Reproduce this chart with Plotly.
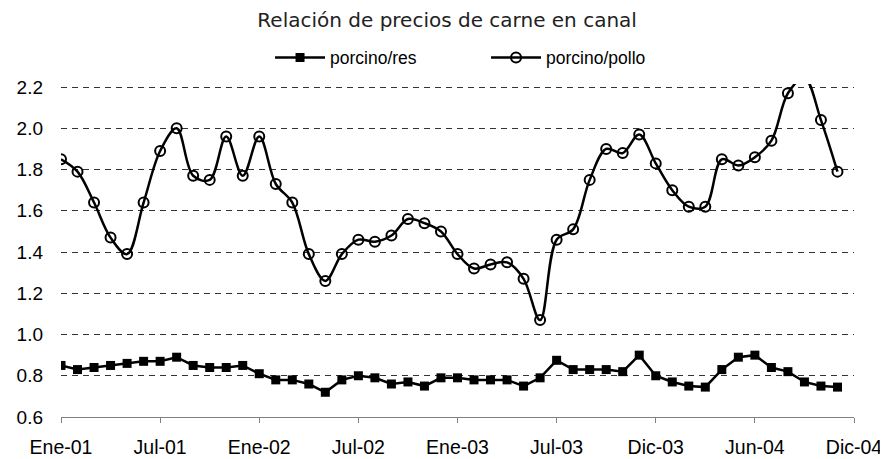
import plotly.graph_objects as go

# Monthly series, Ene-01 .. Nov-04 (48 months)
month_index = list(range(48))

porcino_res = [
    0.85, 0.83, 0.84, 0.85, 0.86, 0.87, 0.87, 0.89, 0.85, 0.84, 0.84, 0.85,
    0.81, 0.78, 0.78, 0.76, 0.72, 0.78, 0.80, 0.79, 0.76, 0.77, 0.75, 0.79,
    0.79, 0.78, 0.78, 0.78, 0.75, 0.79, 0.875, 0.83, 0.83, 0.83, 0.82, 0.90,
    0.80, 0.77, 0.75, 0.745, 0.83, 0.89, 0.90, 0.84, 0.82, 0.77, 0.75, 0.745,
]

porcino_pollo = [
    1.85, 1.79, 1.64, 1.47, 1.39, 1.64, 1.89, 2.00, 1.77, 1.75, 1.96, 1.77,
    1.96, 1.73, 1.64, 1.39, 1.26, 1.39, 1.46, 1.45, 1.48, 1.56, 1.54, 1.50,
    1.39, 1.32, 1.34, 1.35, 1.27, 1.07, 1.46, 1.51, 1.75, 1.90, 1.88, 1.97,
    1.83, 1.70, 1.62, 1.62, 1.85, 1.82, 1.86, 1.94, 2.17, 2.245, 2.04, 1.79,
]

tick_pos = [0, 6, 12, 18, 24, 30, 36, 42, 48]
tick_labels = ["Ene-01", "Jul-01", "Ene-02", "Jul-02", "Ene-03",
               "Jul-03", "Dic-03", "Jun-04", "Dic-04"]

y_ticks = [0.6, 0.8, 1.0, 1.2, 1.4, 1.6, 1.8, 2.0, 2.2]

fig = go.Figure()
fig.add_trace(go.Scatter(
    x=month_index, y=porcino_res, name="porcino/res",
    mode="lines+markers",
    line=dict(color="black", width=2.5),
    marker=dict(symbol="square", size=9, color="black"),
))
fig.add_trace(go.Scatter(
    x=month_index, y=porcino_pollo, name="porcino/pollo",
    mode="lines+markers",
    line=dict(color="black", width=2.5, shape="spline", smoothing=1.0),
    marker=dict(symbol="circle-open", size=10, color="black",
                line=dict(width=2, color="black")),
    cliponaxis=True,
))

fig.update_layout(
    width=880, height=451,
    margin=dict(l=53, r=34, t=76, b=42, autoexpand=False),
    paper_bgcolor="white", plot_bgcolor="white",
    title=dict(text="Relación de precios de carne en canal",
               x=0.499, xanchor="center", y=0.973, yanchor="middle",
               font=dict(family="DejaVu Sans", size=20, color="#222")),
    legend=dict(orientation="h", x=0.2636, xanchor="left",
                y=1.079, yanchor="middle",
                font=dict(family="Liberation Sans", size=17.5, color="black"),
                entrywidth=151, entrywidthmode="pixels",
                bgcolor="rgba(0,0,0,0)", itemwidth=50),
    showlegend=True,
)

fig.update_xaxes(
    range=[0, 48], tickmode="array", tickvals=tick_pos, ticktext=tick_labels,
    showgrid=False, zeroline=False, automargin=False,
    showline=True, linecolor="#808080", linewidth=1,
    ticks="outside", ticklen=5, tickcolor="#808080",
    tickfont=dict(family="Liberation Sans", size=19.5, color="black"),
    ticklabelstandoff=8,
)
fig.update_yaxes(
    range=[0.6, 2.215], tickmode="array", tickvals=y_ticks,
    ticktext=[f"{v:.1f}" for v in y_ticks],
    showgrid=True, gridcolor="#333333", gridwidth=1, griddash="6px,5px",
    zeroline=False, showline=False, ticks="", automargin=False,
    tickfont=dict(family="Liberation Sans", size=19, color="black"),
    ticklabelstandoff=17,
)

fig.write_html("out.html")
